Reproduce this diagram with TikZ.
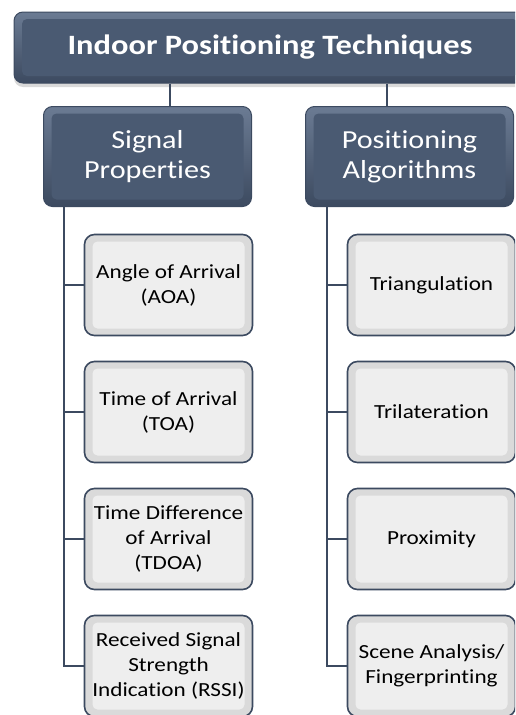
\documentclass[tikz,border=0pt]{standalone}
\usepackage{fontspec}
\setmainfont{Carlito}[FakeStretch=1.16, Ligatures=NoCommon]
\usetikzlibrary{positioning,shadows}
\definecolor{slate}{HTML}{4A5A72}
\definecolor{slatedark}{HTML}{3C4A60}
\definecolor{slatelight}{HTML}{6B7B93}
\definecolor{boxgray}{HTML}{DADADA}
\definecolor{boxlight}{HTML}{EEEEEE}
\tikzset{
node distance=24.4pt, % gap between the item boxes
headbox/.style={draw=slatedark, line width=1pt, rounded corners=9pt,
   top color=slatelight, bottom color=slatedark, text=white, align=center,
   path picture={\fill[slate, rounded corners=5pt]
     ([shift={(8pt,-7pt)}]path picture bounding box.north west) rectangle
     ([shift={(-8pt,7pt)}]path picture bounding box.south east);}},
itembox/.style={draw=slatedark, line width=1.6pt, rounded corners=10pt,
   fill=boxgray, minimum width=168pt, minimum height=101pt, align=center,
   inner sep=2pt, font=\fontsize{20}{25}\selectfont,
   path picture={\fill[boxlight, rounded corners=5pt]
     ([shift={(8pt,-7pt)}]path picture bounding box.north west) rectangle
     ([shift={(-8pt,7pt)}]path picture bounding box.south east);}},
link/.style={draw=slatedark, line width=2.8pt},
}

\begin{document}
\begin{tikzpicture}[x=1pt,y=-1pt]
\clip[use as bounding box] (0,0) rectangle (515,715);
%Top box
\node[headbox, drop shadow={opacity=0.3, shadow xshift=0pt, shadow yshift=-4pt},
   minimum width=512pt, minimum height=71pt,
   font=\fontsize{28}{32}\selectfont\bfseries] (ipt) at (270,47.5) {Indoor Positioning Techniques};
%Second level
\node[headbox, minimum width=208pt, minimum height=100pt,
   font=\fontsize{26}{30}\selectfont] (sig) at (147.5,156.5) {Signal\\Properties};
\node[headbox, minimum width=208pt, minimum height=100pt,
   font=\fontsize{26}{30}\selectfont] (alg) at (409.5,156.5) {Positioning\\Algorithms};
%Left column
\node[itembox] (aoa) at (168.5,285) {Angle of Arrival\\(AOA)};
\node[itembox, below=of aoa] (toa) {Time of Arrival\\(TOA)};
\node[itembox, below=of toa] (tdoa) {Time Difference\\of Arrival\\(TDOA)};
\node[itembox, below=of tdoa] (rssi) {Received Signal\\Strength\\Indication (RSSI)};
%Right column
\node[itembox] (tri) at (431.5,285) {Triangulation};
\node[itembox, below=of tri] (tril) {Trilateration};
\node[itembox, below=of tril] (prox) {Proximity};
\node[itembox, below=of prox] (scene) {Scene Analysis/\\Fingerprinting};
%Connectors
\coordinate (lstem) at (170,0);
\coordinate (rstem) at (387,0);
\coordinate (ltrunk) at (64,0);
\coordinate (rtrunk) at (327,0);
\draw[link] (lstem |- ipt.south) -- (lstem |- sig.north);
\draw[link] (rstem |- ipt.south) -- (rstem |- alg.north);
\draw[link] (ltrunk |- sig.south) -- (ltrunk |- rssi.west) -- (rssi.west);
\draw[link] (rtrunk |- alg.south) -- (rtrunk |- scene.west) -- (scene.west);
\foreach \n in {aoa,toa,tdoa}
  \draw[link] (ltrunk |- \n.west) -- (\n.west);
\foreach \n in {tri,tril,prox}
  \draw[link] (rtrunk |- \n.west) -- (\n.west);
\end{tikzpicture}
\end{document}
